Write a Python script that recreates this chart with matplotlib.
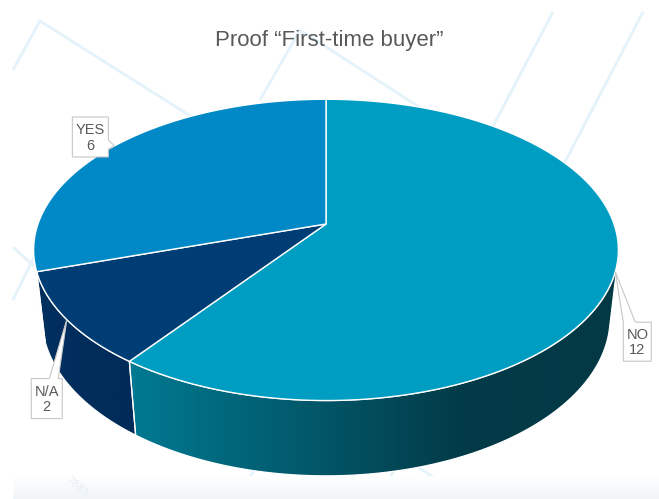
import matplotlib.pyplot as plt
import numpy as np
from matplotlib.patches import Polygon
from matplotlib.colors import LinearSegmentedColormap

# chart data
title = "Proof “First-time buyer”"
labels = ["NO", "N/A", "YES"]
counts = [12, 2, 6]
top_colors = ["#009DC3", "#003D75", "#0089C6"]
side_colors = [["#007A92", "#033B48", "#023945"],
               ["#01305F", "#012A58"],
               ["#0074A8", "#00608C"]]
# label box: offset of box centre from the rim point, box size, pointer side
label_offsets = [(22, 70), (-20, 79), (-24, -9)]
label_sizes = [(28, 39), (31, 40), (36, 40)]
label_sides = ["top", "top", "right"]

# 3d view of the pie (screen pixels)
CX, CY = 326, 224
FOCAL = 1443.0
DIST = 5.01
ELEV = np.radians(30.5)
DEPTH = 0.28
TEXT_COLOR = "#595959"


def project(theta, z=0.0):
    x = np.cos(theta)
    y = np.sin(theta)
    d = DIST + y * np.cos(ELEV) - z * np.sin(ELEV)
    up = y * np.sin(ELEV) + z * np.cos(ELEV)
    return CX + FOCAL * x / d, CY - FOCAL * up / d


def arc(t0, t1, z=0.0, n=150):
    t = np.linspace(t0, t1, n)
    sx, sy = project(t, z)
    return np.column_stack([sx, sy])


fig = plt.figure(figsize=(6.59, 4.99), dpi=100)
ax = fig.add_axes([0, 0, 1, 1])
ax.axis("off")

# faint background pattern
bg_lines = [
    [(13, 70), (40, 21), (260, 160)],
    [(260, 100), (300, 30), (470, 140)],
    [(553, 12), (470, 170)],
    [(643, 12), (540, 210)],
    [(13, 300), (40, 245)],
    [(13, 247), (60, 290)],
    [(275, 430), (238, 500)],
    [(415, 430), (378, 500)],
    [(370, 436), (467, 499)],
]
for pts in bg_lines:
    xs, ys = zip(*pts)
    ax.plot(xs, ys, color="#E4F2FA", lw=2, zorder=0, solid_capstyle="butt")
band = np.linspace(0, 1, 50).reshape(-1, 1)
ax.imshow(band, cmap=LinearSegmentedColormap.from_list("band", ["#FFFFFF", "#F1F5F8"]),
          extent=(13, 659, 499, 476), aspect="auto", zorder=0.5)
ax.text(77, 487, "7883", rotation=-40, color="#E4ECF3", fontsize=7,
        ha="center", va="center", zorder=0.6)

# slice angles, clockwise from 12 o'clock
total = float(sum(counts))
bounds = np.radians(90 - 360 * np.concatenate([[0], np.cumsum(counts)]) / total)

# visible part of the rim faces the viewer
k = 1.0 / (DIST * np.cos(ELEV))
vis_lo = -np.pi + np.arcsin(k)
vis_hi = -np.arcsin(k)

for i in range(len(counts)):
    a, b = bounds[i], bounds[i + 1]
    lo, hi = max(min(a, b), vis_lo), min(max(a, b), vis_hi)
    if lo >= hi:
        continue
    pts = np.vstack([arc(lo, hi, 0.0), arc(hi, lo, -DEPTH)])
    poly = Polygon(pts, closed=True, facecolor="none", edgecolor="none", zorder=2)
    ax.add_patch(poly)
    x0, x1 = pts[:, 0].min(), pts[:, 0].max()
    y0, y1 = pts[:, 1].min(), pts[:, 1].max()
    cols = side_colors[i]
    if len(cols) == 3:
        cmap = LinearSegmentedColormap.from_list("s%d" % i, [(0, cols[0]), (0.68, cols[1]), (1, cols[2])])
    else:
        cmap = LinearSegmentedColormap.from_list("s%d" % i, cols)
    grad = np.linspace(0, 1, 256).reshape(1, -1)
    im = ax.imshow(grad, cmap=cmap, extent=(x0, x1, y1, y0), aspect="auto", zorder=2)
    im.set_clip_path(poly)
    ax.add_patch(Polygon(pts, closed=True, facecolor="none", edgecolor="white",
                         lw=0.9, zorder=2.5))

# top faces
for i in range(len(counts)):
    a, b = bounds[i], bounds[i + 1]
    pts = np.vstack([[(CX, CY)], arc(a, b, 0.0)])
    ax.add_patch(Polygon(pts, closed=True, facecolor=top_colors[i], edgecolor="white",
                         lw=1.0, joinstyle="round", zorder=3))

# data labels with callout pointers
for i in range(len(counts)):
    mid = 0.5 * (bounds[i] + bounds[i + 1])
    ax_, ay_ = project(mid, 0.0)
    cx = ax_ + label_offsets[i][0]
    cy = ay_ + label_offsets[i][1]
    w, h = label_sizes[i]
    x0, x1, y0, y1 = cx - w / 2, cx + w / 2, cy - h / 2, cy + h / 2
    if label_sides[i] == "right":
        pts = [(x0, y0), (x1, y0), (x1, y0 + 23), (ax_, ay_), (x1, y0 + 32), (x1, y1), (x0, y1)]
    elif cx > ax_:
        pts = [(x0, y0), (ax_, ay_), (x0 + 12, y0), (x1, y0), (x1, y1), (x0, y1)]
    else:
        pts = [(x0, y0), (x0 + 18, y0), (ax_, ay_), (x0 + 27, y0), (x1, y0), (x1, y1), (x0, y1)]
    ax.add_patch(Polygon(pts, closed=True, facecolor="white", edgecolor="#C8C8C8",
                         lw=0.8, zorder=5))
    ax.text(cx, cy + 1, "%s\n%d" % (labels[i], counts[i]), ha="center", va="center",
            fontsize=10.5, color=TEXT_COLOR, family="Liberation Sans",
            linespacing=1.1, zorder=6)

ax.text(329, 46, title, ha="center", va="baseline", fontsize=16,
        color=TEXT_COLOR, family="Liberation Sans")

ax.set_xlim(0, 659)
ax.set_ylim(499, 0)
fig.savefig("out.png", dpi=100)
